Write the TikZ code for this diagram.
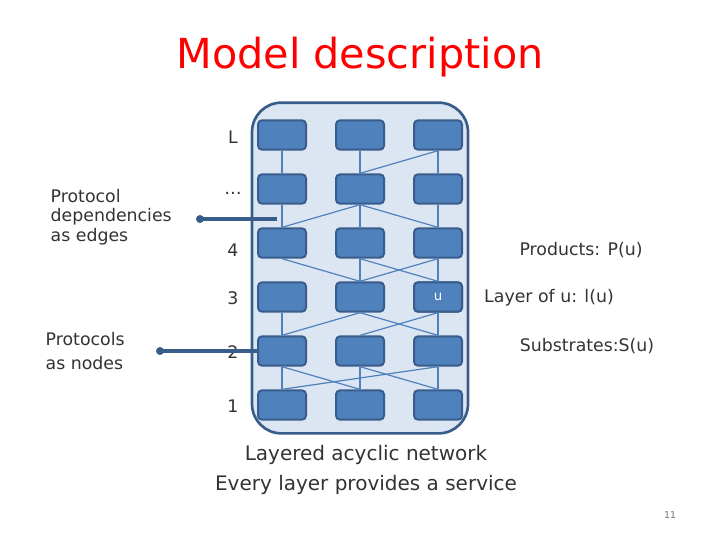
\documentclass[tikz,border=0pt]{standalone}
\usepackage{fontspec}
\setmainfont{DejaVu Sans}
\begin{document}
\begin{tikzpicture}[x=0.75pt,y=-0.75pt,
 box/.style={draw=boxb,fill=boxf,line width=1.5pt,rounded corners=3pt,minimum width=36pt,minimum height=22pt,inner sep=0pt,text=white,font=\fontsize{10}{12}\selectfont},
 e/.style={draw=boxf,line width=0.9pt},
 lab/.style={font=\fontsize{13}{15}\selectfont,text=black!80},
 pt/.style={draw=boxb,line width=3pt}]
\definecolor{boxf}{HTML}{4F81BD}
\definecolor{boxb}{HTML}{385D8A}
\definecolor{contf}{HTML}{DCE6F2}
\useasboundingbox (0,0) rectangle (720,540);
\node[font=\fontsize{31}{36}\selectfont,text=red] (title) at (360,57) {Model description};
\node[draw=boxb,fill=contf,line width=2pt,rounded corners=22pt,minimum width=162pt,minimum height=248pt] (cont) at (360,268) {};
\foreach \r/\y in {6/135,5/189,4/243,3/297,2/351,1/405}{
 \foreach \c/\x in {1/282,2/360,3/438}{
  \node[box] (b\r\c) at (\x,\y) {};
 }}
\node[box] at (b33) {u};
\foreach \a/\b in {61/51,62/52,63/53,63/52,
 51/41,52/42,53/43,52/41,52/43,
 41/32,42/32,43/32,42/33,43/33,
 31/21,32/21,32/23,33/22,33/23,
 21/11,22/12,23/13,21/12,22/13,23/11}{
 \draw[e] (b\a.south) -- (b\b.north);
}
\foreach \r/\t/\y in {6/L/137,5/\dots/193,4/4/250,3/3/298,2/2/352,1/1/406}
 \node[lab] (l\r) at (233,\y) {\t};
\coordinate (d1) at (200,219);
\coordinate (d2) at (277,219);
\draw[pt] (d1) -- (d2);
\fill[boxb] (d1) circle (3pt);
\coordinate (p1) at (160,351);
\draw[pt] (p1) -- (b21.west);
\fill[boxb] (p1) circle (3pt);
\node[lab,align=left,anchor=west,font=\fontsize{13}{14.5}\selectfont] (pd) at (46,217) {Protocol\\dependencies\\as edges};
\node[lab,align=left,anchor=west,font=\fontsize{13}{18}\selectfont] (pn) at (41,351) {Protocols\\as nodes};
\node[lab] (prod) at (581,250) {Products: P(u)};
\node[lab] (lay) at (549,298) {Layer of u: l(u)};
\node[lab] (sub) at (587,346) {Substrates:S(u)};
\node[lab,align=center,font=\fontsize{15}{22.5}\selectfont] (bot) at (366,470) {Layered acyclic network\\Every layer provides a service};
\node[font=\fontsize{7}{8}\selectfont,text=black!55] (pg) at (670,515) {11};
\end{tikzpicture}
\end{document}
